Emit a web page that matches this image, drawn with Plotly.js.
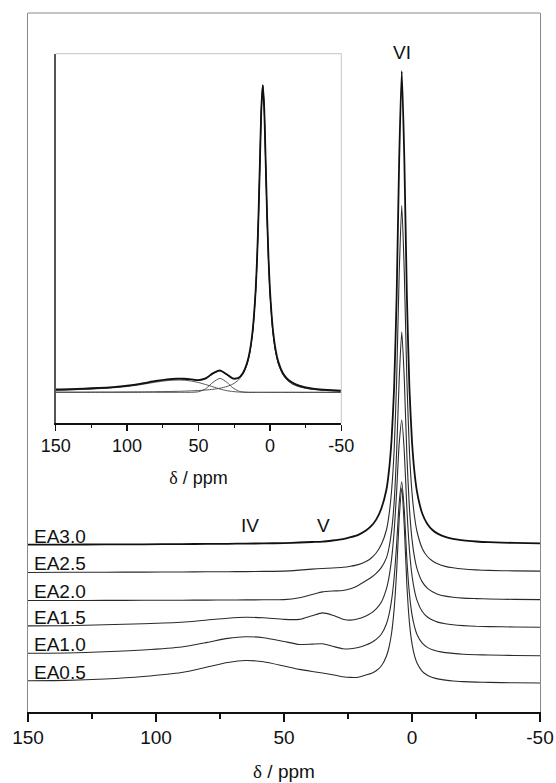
<!DOCTYPE html>
<html>
<head>
<meta charset="utf-8">
<script src="https://cdn.plot.ly/plotly-3.0.1.min.js"></script>
<style>html,body{margin:0;padding:0;background:#fff;}#chart{width:556px;height:783px;}</style>
</head>
<body>
<div id="chart"></div>
<script>
// ---- main spectra (27Al chemical shift, ppm) ----
const ppm = [150,135,120,105,90,80,72,65,58,50,44,39,35,31,27,24,21,18,16,14,12,10,9,8,7,6,5,4,3,2,1,0,-1,-2,-4,-6,-8,-10,-13,-16,-20,-25,-30,-40,-50];

const ea30 = [167.3,167.4,167.6,167.7,167.9,168.1,168.2,168.4,168.6,168.9,169.5,170.0,170.4,171.5,172.9,174.8,177.2,181.5,185.8,192.4,203.3,222.2,241.1,271.8,323.4,415.7,553.3,640.8,553.5,415.9,323.6,270.2,239.0,219.6,198.5,188.0,182.0,178.4,175.1,173.2,171.6,170.5,169.8,169.1,168.7];
const ea25 = [139.5,139.7,139.8,139.9,140.0,140.2,140.3,140.4,140.6,140.9,141.9,142.9,143.5,144.0,144.7,145.8,147.4,150.5,153.8,159.0,167.4,182.0,196.7,220.5,260.5,331.9,438.6,506.4,438.7,332.0,260.6,219.2,195.0,180.0,163.6,155.5,151.0,148.2,145.6,144.2,143.0,142.1,141.6,141.1,140.9];
const ea20 = [111.5,111.5,111.6,111.7,111.8,111.9,112.0,112.1,112.2,112.4,114.3,117.5,120.1,121.0,121.5,123.3,126.6,131.2,134.5,138.7,144.4,154.1,164.0,180.6,208.9,260.3,333.0,380.3,332.0,256.7,203.6,172.6,154.3,142.9,130.1,123.8,120.2,117.8,115.9,114.8,113.9,113.4,113.0,112.6,112.4];
const ea15 = [86.1,86.3,87.2,88.3,89.8,92.0,93.8,94.7,94.2,92.6,92.6,96.3,99.1,96.8,92.8,91.9,93.2,96.1,98.9,103.2,109.8,123.1,134.7,152.4,179.7,220.6,268.6,292.0,259.8,203.4,162.0,136.5,121.2,111.4,100.5,95.0,91.9,89.9,88.2,87.2,86.4,85.7,85.4,85.0,84.7];
const ea10 = [58.8,59.0,60.2,62.0,65.0,69.6,73.6,75.3,74.3,70.5,67.5,67.9,68.2,65.7,63.3,63.2,64.5,67.0,69.3,72.6,77.7,88.0,97.1,111.3,133.7,167.7,209.5,230.3,201.3,152.5,118.1,97.4,85.1,77.3,68.8,64.6,62.2,60.7,59.4,58.6,57.8,57.3,57.0,56.5,56.3];
const ea05 = [31.3,31.6,33.0,35.5,39.5,45.0,49.5,51.5,50.3,46.0,42.6,40.5,39.0,37.3,35.2,34.6,34.8,37.0,38.4,41.2,46.0,55.8,64.5,78.5,102.1,140.6,193.2,224.0,185.0,126.7,89.4,68.3,56.1,48.7,40.7,36.8,34.4,33.1,31.9,31.0,30.4,29.9,29.6,29.2,29.0];

const seriesNames = ['EA3.0','EA2.5','EA2.0','EA1.5','EA1.0','EA0.5'];
const seriesData = [ea30, ea25, ea20, ea15, ea10, ea05];

const peakLabels = ['IV','V','VI'];
const peakPos = [63.3, 34.4, 4.0];

// ---- inset: deconvolution ----
const ppmIn = [150,140,130,120,110,100,90,80,72,65,60,55,50,45,40,35,30,26,22,19,16,14,12,10,9,8,7,6,5,4,3,2,1,0,-2,-4,-6,-9,-12,-16,-20,-25,-30,-40,-50];
const insetExp = [34.0,34.2,34.8,35.4,36.3,37.7,39.8,42.4,44.0,44.7,44.6,44.0,43.2,44.9,50.0,53.0,48.8,45.0,45.6,50.2,60.5,72.8,94.0,133.0,165.0,208.0,262.0,315.0,338.3,316.0,263.0,209.0,166.0,134.0,95.0,73.5,61.0,50.5,44.8,40.5,38.0,36.0,34.8,33.4,32.8];
const insetFit = [33.2,33.6,34.2,34.9,35.8,37.2,39.3,41.9,43.5,44.3,44.3,43.8,43.2,44.6,49.5,52.4,48.4,44.6,45.0,49.4,59.2,71.1,92.0,131.3,163.3,206.8,261.0,315.0,338.0,315.0,261.0,206.8,163.3,131.3,92.0,71.1,59.0,48.9,43.4,39.2,36.9,35.1,34.0,32.8,32.2];
const insetIV = [33.0,33.4,34.0,34.6,35.5,36.8,38.8,41.2,42.7,43.3,43.1,42.3,40.8,38.8,36.6,34.3,32.6,31.8,31.3,31.1,31,31,31,31,31,31,31,31,31,31,31,31,31,31,31,31,31,31,31,31,31,31,31,31,31];
const insetV = [31,31,31,31,31,31,31,31,31,31,31,31,31.6,34.5,40.9,45.0,40.9,35.6,32.3,31.4,31.1,31,31,31,31,31,31,31,31,31,31,31,31,31,31,31,31,31,31,31,31,31,31,31,31];
const insetVI = [31.2,31.2,31.2,31.3,31.3,31.4,31.5,31.7,31.8,32.0,32.2,32.5,32.8,33.3,34.0,35.1,36.9,39.2,43.4,48.9,59.0,71.1,92.0,131.3,163.3,206.8,261.0,315.0,338.0,315.0,261.0,206.8,163.3,131.3,92.0,71.1,59.0,48.9,43.4,39.2,36.9,35.1,34.0,32.8,32.2];

const xTicks = [150,100,50,0,-50];
const xTickText = ['150','100','50','0','-50'];

// ---- build ----
const FONT = 'Liberation Sans, Arial, sans-serif';
const traces = [];
seriesData.forEach((ys, i) => {
  traces.push({
    x: ppm, y: ys, type: 'scatter', mode: 'lines', name: seriesNames[i],
    line: {color: i === 0 ? '#111' : '#2a2a2a', width: i === 0 ? 1.8 : 1.1, shape: 'spline', smoothing: 0.6},
    xaxis: 'x', yaxis: 'y', hoverinfo: 'skip'
  });
});
[[insetIV,'#444',0.9],[insetV,'#444',0.9],[insetVI,'#444',0.9],[insetFit,'#333',1.0],[insetExp,'#111',1.8]].forEach(([ys,c,w]) => {
  traces.push({x: ppmIn, y: ys, type: 'scatter', mode: 'lines',
    line: {color: c, width: w, shape: 'spline', smoothing: 0.6},
    xaxis: 'x2', yaxis: 'y2', hoverinfo: 'skip'});
});

const annotations = [];
seriesData.forEach((ys, i) => {
  annotations.push({text: seriesNames[i], x: ppm[0] - 1.5, y: ys[0] + 8.7, xref: 'x', yref: 'y',
    xanchor: 'left', yanchor: 'middle', showarrow: false, font: {family: FONT, size: 19, color: '#111'}});
});
const peakY = [187, 187, 660];
peakLabels.forEach((t, i) => {
  annotations.push({text: t, x: peakPos[i], y: peakY[i], xref: 'x', yref: 'y',
    xanchor: 'center', yanchor: 'middle', showarrow: false, font: {family: FONT, size: 19, color: '#111'}});
});

const deltaTitle = '<span style="font-family:Liberation Serif, Times New Roman, serif">δ</span> / ppm';

const layout = {
  width: 556, height: 783,
  margin: {l: 28, r: 16, t: 13, b: 71},
  paper_bgcolor: '#fff', plot_bgcolor: '#fff',
  showlegend: false,
  font: {family: FONT, size: 19, color: '#111'},
  xaxis: {
    range: [150, -50], tickvals: xTicks, ticktext: xTickText, ticklabeloverflow: 'allow',
    ticks: 'outside', ticklen: 8, tickwidth: 1.5, tickcolor: '#111',
    showline: true, linecolor: '#111', linewidth: 1.5, showgrid: false, zeroline: false,
    minor: {dtick: 25, tick0: 0, ticks: 'outside', ticklen: 5, tickwidth: 1.2, tickcolor: '#111'},
    tickfont: {family: FONT, size: 19, color: '#111'},
    title: {text: deltaTitle, font: {family: FONT, size: 19, color: '#111'}, standoff: 17},
    fixedrange: true
  },
  yaxis: {
    range: [0, 699], showline: true, linecolor: '#8a8a8a', linewidth: 1.2, mirror: true,
    showticklabels: false, ticks: '', showgrid: false, zeroline: false, fixedrange: true
  },
  xaxis2: {
    domain: [0.054, 0.612], anchor: 'y2', range: [150, -50], tickvals: xTicks, ticktext: xTickText,
    ticklabeloverflow: 'allow',
    ticks: 'outside', ticklen: 6, tickwidth: 1.2, tickcolor: '#111',
    showline: true, linecolor: '#111', linewidth: 1.2, showgrid: false, zeroline: false,
    minor: {dtick: 25, tick0: 0, ticks: 'outside', ticklen: 3, tickwidth: 1, tickcolor: '#111'},
    tickfont: {family: FONT, size: 18, color: '#111'},
    title: {text: deltaTitle, font: {family: FONT, size: 18, color: '#111'}, standoff: 16},
    fixedrange: true
  },
  yaxis2: {
    domain: [0.413, 0.942], anchor: 'x2', range: [0, 370],
    showline: true, linecolor: '#555', linewidth: 1.2,
    showticklabels: false, ticks: '', showgrid: false, zeroline: false, fixedrange: true
  },
  shapes: [
    {type: 'line', xref: 'x domain', yref: 'y domain', x0: 0, x1: 1, y0: 1, y1: 1, line: {color: '#8a8a8a', width: 1.2}},
    {type: 'line', xref: 'x2 domain', yref: 'y2 domain', x0: 0, x1: 1, y0: 1, y1: 1, line: {color: '#cfcfcf', width: 1.2}},
    {type: 'line', xref: 'x2 domain', yref: 'y2 domain', x0: 1, x1: 1, y0: 0, y1: 1, line: {color: '#cfcfcf', width: 1.2}}
  ],
  annotations: annotations
};

Plotly.newPlot('chart', traces, layout, {staticPlot: true, displayModeBar: false});
</script>
</body>
</html>
